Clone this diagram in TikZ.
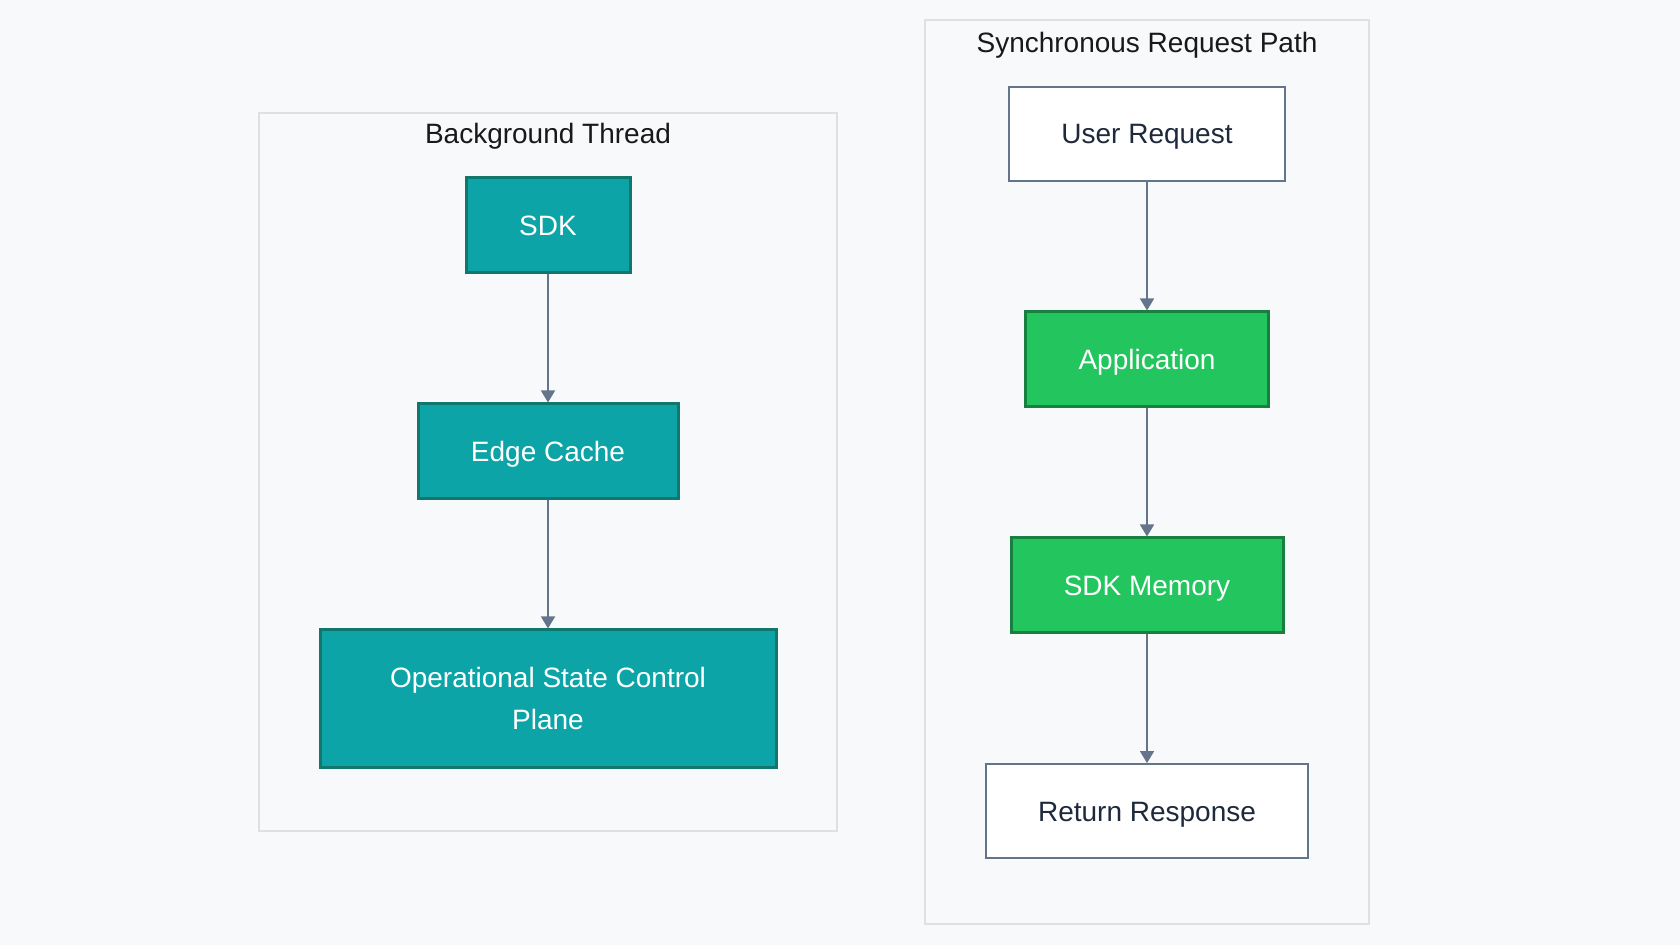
\documentclass[tikz,border=0pt]{standalone}
\usepackage{fontspec}
\setmainfont{Liberation Sans}
\usepackage{tikz}
\usetikzlibrary{arrows.meta}

\definecolor{pagebg}{RGB}{248,249,251}
\definecolor{clusterline}{RGB}{222,224,228}
\definecolor{tealfill}{RGB}{13,164,168}
\definecolor{tealline}{RGB}{17,119,108}
\definecolor{greenfill}{RGB}{34,197,94}
\definecolor{greenline}{RGB}{24,128,62}
\definecolor{slateline}{RGB}{100,116,139}
\definecolor{inktext}{RGB}{30,41,59}

\begin{document}
\begin{tikzpicture}[x=0.5pt, y=-0.5pt,
  every node/.style={font=\fontsize{14pt}{21pt}\selectfont, text height=10pt, text depth=0pt, align=center},
  cluster/.style={draw=clusterline, fill=pagebg, line width=1pt},
  title/.style={anchor=base, text=black!90, text height=, text depth=},
  tealbox/.style={draw=tealline, fill=tealfill, text=white, line width=1.5pt},
  greenbox/.style={draw=greenline, fill=greenfill, text=white, line width=1.5pt},
  plainbox/.style={draw=slateline, fill=white, text=inktext, line width=0.9pt},
  flow/.style={draw=slateline, line width=0.75pt, -{Triangle[length=6pt, width=7pt]}}]
  \fill[pagebg] (0,0) rectangle (1680,945);
  % background thread
  \draw[cluster] (259,113) rectangle (837,831);
  \node[title] (bgtitle) at (548,144) {Background Thread};
  \node[tealbox, minimum width=82pt, minimum height=47.5pt] (sdk) at (548,225.5) {SDK};
  \node[tealbox, minimum width=130pt, minimum height=47.5pt] (edgecache) at (548,451.5) {Edge Cache};
  \node[tealbox, minimum width=228pt, minimum height=68.5pt, text height=31pt] (oscp) at (548,698.5) {Operational State Control\\Plane};
  \draw[flow] (sdk) -- (edgecache);
  \draw[flow] (edgecache) -- (oscp);
  % synchronous request path
  \draw[cluster] (925,20) rectangle (1369,924);
  \node[title] (synctitle) at (1147,53) {Synchronous Request Path};
  \node[plainbox, minimum width=138pt, minimum height=47pt] (userreq) at (1147,134) {User Request};
  \node[greenbox, minimum width=121.5pt, minimum height=47.5pt] (app) at (1147,359.5) {Application};
  \node[greenbox, minimum width=136pt, minimum height=47.5pt] (sdkmem) at (1147,585.5) {SDK Memory};
  \node[plainbox, minimum width=161pt, minimum height=47pt] (retresp) at (1147,811) {Return Response};
  \draw[flow] (userreq) -- (app);
  \draw[flow] (app) -- (sdkmem);
  \draw[flow] (sdkmem) -- (retresp);
\end{tikzpicture}
\end{document}
